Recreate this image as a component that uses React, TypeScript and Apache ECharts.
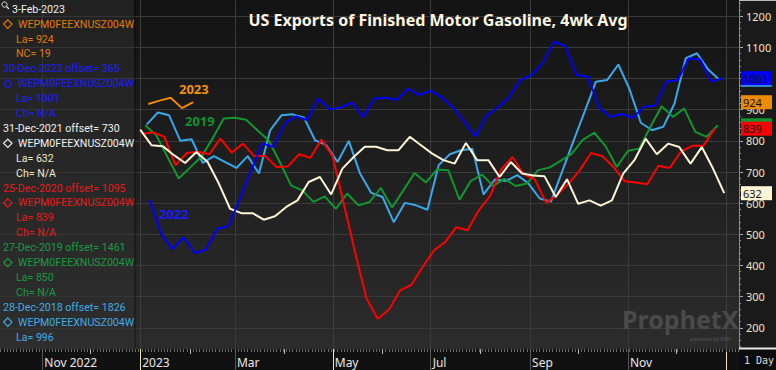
import React, { useEffect, useRef } from "react";
import * as echarts from "echarts";

const DAY = 86400000;
const FONT = "'Noto Sans', 'DejaVu Sans', sans-serif";
const LEGEND_FONT = "Roboto, 'Noto Sans', sans-serif";

// ---- data ----
const seriesNames = ["2018", "2019", "2020", "2021", "2022", "2023"];
const seriesColors = ["#3aa8e8", "#12962f", "#ff0000", "#fff4d6", "#0000ff", "#f08a00"];
const startDates = ["2018-01-05", "2019-01-04", "2020-01-03", "2021-01-01", "2022-01-07", "2023-01-06"];
const offsetDays = [1826, 1461, 1095, 730, 365, 0];
// boxes on the right axis whose value text is hidden behind another box in the reference
const hiddenBoxText = [true, true, false, false, false, false];

const vals2018 = [852, 891, 882, 800, 805, 729, 751, 732, 713, 751, 695, 834, 882, 885, 875, 802, 786, 732, 800, 695, 633, 620, 539, 601, 593, 579, 722, 757, 770, 775, 628, 676, 671, 690, 663, 615, 605, 702, 799, 894, 990, 995, 1045, 965, 858, 834, 845, 920, 1065, 1081, 1029, 996];
const vals2019 = [850, 818, 748, 679, 714, 748, 807, 872, 874, 868, 834, 802, 732, 657, 641, 604, 622, 582, 631, 593, 604, 649, 586, 641, 697, 666, 708, 706, 611, 671, 692, 655, 678, 655, 663, 706, 714, 736, 759, 804, 826, 783, 716, 768, 775, 845, 911, 877, 904, 829, 813, 850];
const vals2020 = [823, 827, 813, 722, 761, 765, 757, 807, 762, 791, 751, 751, 716, 718, 757, 746, 804, 750, 595, 440, 295, 229, 258, 320, 338, 395, 448, 475, 523, 513, 577, 623, 708, 748, 693, 676, 601, 628, 663, 706, 761, 751, 716, 670, 666, 661, 720, 713, 765, 784, 784, 839];
const vals2021 = [836, 786, 783, 754, 729, 764, 732, 663, 582, 568, 568, 547, 558, 588, 609, 668, 684, 628, 711, 748, 781, 781, 770, 770, 813, 786, 759, 738, 727, 793, 738, 738, 684, 732, 695, 689, 686, 620, 677, 598, 609, 592, 609, 695, 738, 807, 757, 791, 780, 727, 780, 711, 632];
const vals2022 = [609, 502, 452, 491, 440, 451, 518, 526, 612, 704, 791, 781, 856, 879, 867, 936, 901, 907, 923, 877, 936, 938, 931, 968, 947, 961, 939, 907, 861, 815, 882, 907, 941, 995, 1011, 1051, 1118, 1104, 1011, 1006, 907, 877, 886, 874, 909, 914, 990, 995, 1065, 1061, 990, 1001];
const vals2023 = [918, 929, 938, 905, 924];
const allVals = [vals2018, vals2019, vals2020, vals2021, vals2022, vals2023];

const yTickValues = [200, 300, 400, 500, 600, 700, 800, 900, 1000, 1100, 1200];
const yLabelValues = [200, 300, 400, 500, 600, 700, 800, 900, 1100, 1200];
const xTickDates = ["2022-11-01", "2023-01-01", "2023-03-01", "2023-05-01", "2023-07-01", "2023-09-01", "2023-11-01"];
const xTickLabels = ["Nov 2022", "2023", "Mar", "May", "Jul", "Sep", "Nov"];
const xMarkDates = ["2023-01-01", "2023-05-01", "2024-01-01"];
const xMidMonthDates = ["2022-10-01", "2022-12-01", "2023-02-01", "2023-04-01", "2023-06-01", "2023-08-01", "2023-10-01", "2023-12-01"];

const titleText = "US Exports of Finished Motor Gasoline, 4wk Avg";

const legendColors = {
  w: "#f0f0f0",
  o: "#e07a0a",
  b: "#1c1cff",
  c: "#f0e8d0",
  r: "#e41b1b",
  g: "#1a9a40",
  l: "#42ace6",
};
// [text, color, kind]  kind: h = header, d = date row, s = symbol row, v = value row
const legendRows: [string, keyof typeof legendColors, string][] = [
  ["3-Feb-2023", "w", "h"],
  ["WEPM0FEEXNUSZ004W", "o", "s"],
  ["La= 924", "o", "v"],
  ["NC= 19", "o", "v"],
  ["30-Dec-2022 offset= 365", "b", "d"],
  ["WEPM0FEEXNUSZ004W", "b", "s"],
  ["La= 1001", "b", "v"],
  ["Ch= N/A", "b", "v"],
  ["31-Dec-2021 offset= 730", "w", "d"],
  ["WEPM0FEEXNUSZ004W", "w", "s"],
  ["La= 632", "c", "v"],
  ["Ch= N/A", "c", "v"],
  ["25-Dec-2020 offset= 1095", "r", "d"],
  ["WEPM0FEEXNUSZ004W", "r", "s"],
  ["La= 839", "r", "v"],
  ["Ch= N/A", "r", "v"],
  ["27-Dec-2019 offset= 1461", "g", "d"],
  ["WEPM0FEEXNUSZ004W", "g", "s"],
  ["La= 850", "g", "v"],
  ["Ch= N/A", "g", "v"],
  ["28-Dec-2018 offset= 1826", "l", "d"],
  ["WEPM0FEEXNUSZ004W", "l", "s"],
  ["La= 996", "l", "v"],
];

const yearLabels = [
  { text: "2023", color: "#f0900c", x: 179, y: 89 },
  { text: "2019", color: "#139030", x: 185, y: 121 },
  { text: "2022", color: "#1a1aff", x: 159, y: 214 },
];

function buildOption() {
  const jan1 = Date.UTC(2023, 0, 1);
  const xMin = jan1 - 87.4 * DAY;
  const xMax = jan1 + 373.2 * DAY;
  const yMin = 132;
  const yMax = 1252;

  const xTickTs = xTickDates.map((d) => Date.parse(d));
  const xMarkTs = xMarkDates.map((d) => Date.parse(d));
  const xMidTs = xMidMonthDates.map((d) => Date.parse(d));
  const minorXTs: number[] = [];
  for (let t = Date.parse("2022-10-06"); t < xMax; t += 2 * DAY) minorXTs.push(t);
  const minorY: number[] = [];
  for (let v = 140; v <= 1240; v += 20) minorY.push(v);

  const series = allVals.map((vals, k) => {
    const start = Date.parse(startDates[k]) + offsetDays[k] * DAY;
    const data = vals.map((v, i) => [start + i * 7 * DAY, v]);
    const last = vals[vals.length - 1];
    return {
      name: seriesNames[k],
      type: "line",
      data,
      showSymbol: false,
      symbol: "none",
      clip: false,
      lineStyle: { color: seriesColors[k], width: 2 },
      itemStyle: { color: seriesColors[k] },
      z: 2 + k,
      markLine: {
        silent: true,
        symbol: ["none", "none"],
        lineStyle: { width: 0, color: "rgba(0,0,0,0)" },
        label: {
          show: true,
          position: "end",
          distance: 2,
          formatter: hiddenBoxText[k] ? " " : String(last),
          backgroundColor: seriesColors[k],
          color: "#111",
          fontFamily: FONT,
          fontSize: 11,
          lineHeight: 12,
          width: 25,
          padding: [1, 4, 1, 2],
        },
        data: [{ yAxis: last }],
      },
    };
  });

  const graphics: any[] = [];
  graphics.push({ type: "rect", z: -1, shape: { x: 0, y: 349, width: 739, height: 21 }, style: { fill: "#111111" } });
  graphics.push({ type: "rect", z: -1, shape: { x: 739, y: 349, width: 37, height: 21 }, style: { fill: "#0c0c0c" } });
  graphics.push({ type: "line", z: 5, shape: { x1: 739, y1: 348.5, x2: 776, y2: 348.5 }, style: { stroke: "#e8e8e8", lineWidth: 2 } });
  graphics.push({ type: "line", z: 5, shape: { x1: 739, y1: 0.5, x2: 776, y2: 0.5 }, style: { stroke: "#bbbbbb", lineWidth: 1 } });
  graphics.push({
    type: "text", z: 6, x: 744, y: 360,
    style: { text: "1 Day", fill: "#dddddd", font: "10px 'DejaVu Sans Mono', monospace", textVerticalAlign: "middle" },
  });
  graphics.push({ type: "rect", z: 3, shape: { x: 0, y: 0, width: 134, height: 349 }, style: { fill: "rgba(48,48,48,0.5)" } });
  graphics.push({ type: "rect", z: 3, shape: { x: 134, y: 0, width: 2, height: 349 }, style: { fill: "rgba(0,0,0,0.25)" } });
  graphics.push({ type: "circle", z: 20, shape: { cx: 4.5, cy: 4.5, r: 2.6 }, style: { stroke: "#e0e0e0", fill: "none", lineWidth: 1 } });
  graphics.push({ type: "line", z: 20, shape: { x1: 6.5, y1: 6.5, x2: 9, y2: 9 }, style: { stroke: "#e0e0e0", lineWidth: 1.2 } });

  legendRows.forEach(([text, ck, kind], i) => {
    const y = 9.2 + i * 14.9;
    const color = legendColors[ck];
    let x = 16;
    if (kind === "h") x = 12;
    if (kind === "d") x = 3;
    if (kind === "s") {
      x = 18;
      graphics.push({
        type: "polygon", z: 20,
        shape: { points: [[7.8, y - 4.2], [12, y], [7.8, y + 4.2], [3.6, y]] },
        style: { stroke: color, fill: "none", lineWidth: 1.2 },
      });
    }
    graphics.push({
      type: "text", z: 20, x, y,
      style: { text, fill: color, font: `10.6px ${LEGEND_FONT}`, textVerticalAlign: "middle" },
    });
  });

  graphics.push({
    type: "text", z: 20, x: 438, y: 20,
    style: { text: titleText, fill: "#fff6e2", font: `bold 16px ${FONT}`, textAlign: "center", textVerticalAlign: "middle" },
  });
  yearLabels.forEach((yl) => {
    graphics.push({
      type: "text", z: 20, x: yl.x, y: yl.y,
      style: { text: yl.text, fill: yl.color, font: `bold 13px ${FONT}`, textVerticalAlign: "middle" },
    });
  });
  graphics.push({
    type: "text", z: 1, x: 622, y: 319,
    style: { text: "ProphetX", fill: "#4a4a4a", font: `bold 25px ${FONT}`, textVerticalAlign: "middle" },
  });
  graphics.push({
    type: "text", z: 1, x: 690, y: 339,
    style: { text: "powered by DTN", fill: "#4a4a4a", font: `bold 5px ${FONT}`, textVerticalAlign: "middle" },
  });

  const xBase = { type: "value", min: xMin, max: xMax, gridIndex: 0, position: "bottom", scale: true };

  return {
    animation: false,
    backgroundColor: "#1a1a1a",
    grid: {
      left: 0, right: 37, top: 0, bottom: 21,
      show: true,
      borderWidth: 0,
      outerBoundsMode: "none",
      backgroundColor: new echarts.graphic.LinearGradient(0, 0, 0, 1, [
        { offset: 0, color: "#131313" },
        { offset: 1, color: "#2c2c2c" },
      ]),
    },
    xAxis: [
      {
        ...xBase,
        axisLine: { show: false },
        axisTick: { show: true, customValues: xTickTs, length: 21, lineStyle: { color: "#555555", width: 1 } },
        axisLabel: {
          show: true,
          customValues: xTickTs,
          formatter: (val: number) => {
            const i = xTickTs.indexOf(val);
            return i >= 0 ? xTickLabels[i] : "";
          },
          align: "left",
          padding: [0, 0, 0, 2],
          margin: 7,
          color: "#e8e8e8",
          fontFamily: FONT,
          fontSize: 12,
        },
        splitLine: { show: true, lineStyle: { color: "#3a3a3a", width: 1 } },
      },
      {
        ...xBase,
        axisLine: { show: false },
        axisTick: { show: true, customValues: xMarkTs, length: 21, lineStyle: { color: "#efe2b6", width: 1 } },
        axisLabel: { show: false },
        splitLine: { show: true, lineStyle: { color: "#3e3e3e", width: 1 } },
      },
      {
        ...xBase,
        axisLine: { show: false },
        axisTick: { show: true, customValues: minorXTs, length: 3, lineStyle: { color: "#6a6a6a", width: 1 } },
        axisLabel: { show: false },
        splitLine: { show: false },
      },
      {
        ...xBase,
        axisLine: { show: false },
        axisTick: { show: true, customValues: xMidTs, length: 5, lineStyle: { color: "#b8b8b8", width: 1 } },
        axisLabel: { show: false },
        splitLine: { show: false },
      },
    ],
    yAxis: [
      {
        type: "value",
        position: "right",
        min: yMin,
        max: yMax,
        axisLine: { show: true, lineStyle: { color: "#8a8a8a", width: 1 } },
        axisTick: { show: true, customValues: yTickValues, length: 4, lineStyle: { color: "#b0b0b0" } },
        axisLabel: {
          show: true,
          customValues: yLabelValues,
          formatter: (v: number) => String(v),
          color: "#f0e4c4",
          fontFamily: FONT,
          fontSize: 11,
          margin: 7,
        },
        splitLine: { show: true, lineStyle: { color: "#3a3a3a", width: 1 } },
      },
      {
        type: "value",
        position: "right",
        min: yMin,
        max: yMax,
        axisLine: { show: false },
        axisTick: { show: true, customValues: minorY, length: 2, lineStyle: { color: "#909090" } },
        axisLabel: { show: false },
        splitLine: { show: false },
      },
    ],
    series,
    graphic: graphics,
  };
}

export default function App() {
  const ref = useRef<HTMLDivElement>(null);
  useEffect(() => {
    if (!ref.current) return;
    const chart = echarts.init(ref.current, null, { renderer: "svg" });
    chart.setOption(buildOption() as any);
    return () => chart.dispose();
  }, []);
  return (
    <div
      ref={ref}
      style={{ position: "absolute", left: 0, top: 0, width: 776, height: 370 }}
    />
  );
}
